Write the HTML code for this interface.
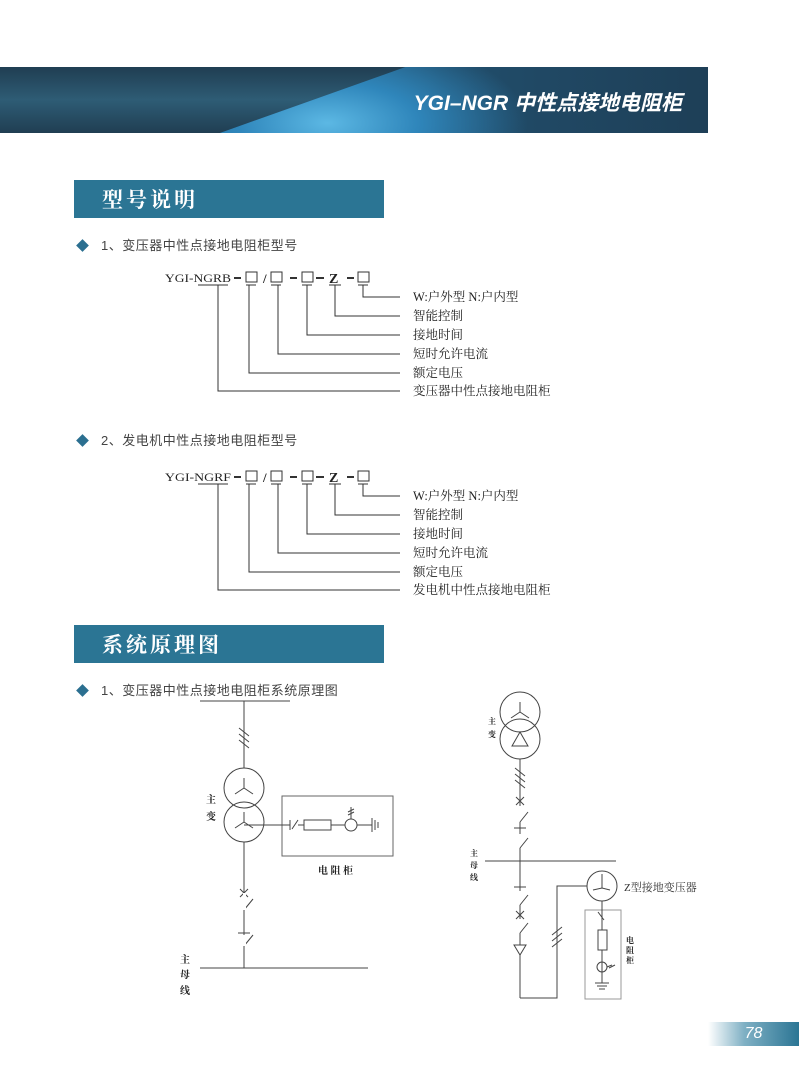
<!DOCTYPE html>
<html><head><meta charset="utf-8"><style>
body{margin:0;background:#fff;}
.p{position:relative;width:799px;height:1092px;overflow:hidden;font-family:"Liberation Serif","Noto Serif CJK SC",serif;}
.ban{position:absolute;left:0;top:67px;width:708px;height:66px;background:linear-gradient(180deg,#203e52 0%,#2e5c75 50%,#203e52 100%);overflow:hidden;}
.ban .g{position:absolute;left:220px;top:0;width:488px;height:66px;clip-path:polygon(0 100%,38% 0,100% 0,100% 100%);background:radial-gradient(ellipse 200px 90px at 22% 85%,#5cb8e4 0%,#2f86bb 45%,rgba(31,75,105,0) 100%),linear-gradient(90deg,#2a6f9c 0%,#214e6c 45%,#1e3f57 100%);}
.ban .t{position:absolute;right:26px;top:20px;color:#fff;font:italic bold 21px "Liberation Sans","Noto Sans CJK SC",sans-serif;}
.sec{position:absolute;left:74px;width:310px;height:38px;background:#2b7594;color:#fff;font:bold 21px "Noto Serif CJK SC",serif;line-height:38px;padding-left:28px;box-sizing:border-box;letter-spacing:3px;}
.it{position:absolute;left:78px;font:13px "Liberation Sans","Noto Sans CJK SC",sans-serif;color:#444;letter-spacing:0.5px;}
.it b{display:inline-block;width:9px;height:9px;background:#2b6f90;transform:rotate(45deg);margin-right:14px;}
.pg{position:absolute;left:708px;top:1022px;width:91px;height:24px;background:linear-gradient(90deg,#fff 0%,#7fb0c4 40%,#2b7594 100%);color:#fff;font:italic 16px "Liberation Sans",sans-serif;text-align:center;line-height:24px;}
svg{position:absolute;left:0;top:0;}
</style></head><body><div class="p">
<div class="ban"><div class="g"></div><div class="t">YGI–NGR 中性点接地电阻柜</div></div>
<div class="sec" style="top:180px">型号说明</div>
<div class="it" style="top:235px"><b></b>1、变压器中性点接地电阻柜型号</div>
<div class="it" style="top:430px"><b></b>2、发电机中性点接地电阻柜型号</div>
<div class="sec" style="top:625px">系统原理图</div>
<div class="it" style="top:680px"><b></b>1、变压器中性点接地电阻柜系统原理图</div>
<div class="pg">78</div>
<svg width="799" height="1092" font-family="Liberation Serif,Noto Serif CJK SC,serif" fill="none" stroke="#333" stroke-width="1">
<defs>
<g id="code">
<rect x="246" y="272" width="11" height="10"/>
<text x="263" y="283" font-size="13" font-weight="bold" fill="#222" stroke="none">/</text>
<rect x="271" y="272" width="11" height="10"/>
<rect x="302" y="272" width="11" height="10"/>
<text x="329" y="283" font-size="14" font-weight="bold" fill="#222" stroke="none">Z</text>
<rect x="358" y="272" width="11" height="10"/>
<g stroke-width="2"><line x1="234" y1="278" x2="241" y2="278"/><line x1="290" y1="278" x2="297" y2="278"/><line x1="316" y1="278" x2="324" y2="278"/><line x1="347" y1="278" x2="354" y2="278"/></g>
<line x1="198" y1="285" x2="228" y2="285"/><line x1="246" y1="285" x2="256" y2="285"/><line x1="271" y1="285" x2="281" y2="285"/><line x1="302" y1="285" x2="312" y2="285"/><line x1="329" y1="285" x2="341" y2="285"/><line x1="358" y1="285" x2="368" y2="285"/>
<path d="M363 285V297H400M335 285V316H400M307 285V335H400M278 285V354H400M249 285V373H400M218 285V391H400"/>
<g fill="#222" stroke="none" font-size="12.5">
<text x="413" y="301">W:户外型  N:户内型</text>
<text x="413" y="320">智能控制</text>
<text x="413" y="339">接地时间</text>
<text x="413" y="358">短时允许电流</text>
<text x="413" y="377">额定电压</text>
</g></g>
</defs>
<use href="#code"/>
<text x="165" y="282" font-size="12" fill="#222" stroke="none" textLength="66" lengthAdjust="spacingAndGlyphs">YGI-NGRB</text>
<text x="413" y="395" font-size="12.5" fill="#222" stroke="none">变压器中性点接地电阻柜</text>
<g transform="translate(0,199)">
<use href="#code"/>
<text x="165" y="282" font-size="12" fill="#222" stroke="none" textLength="66" lengthAdjust="spacingAndGlyphs">YGI-NGRF</text>
<text x="413" y="395" font-size="12.5" fill="#222" stroke="none">发电机中性点接地电阻柜</text>
</g>
<!-- left schematic -->
<g stroke="#444">
<line x1="200" y1="701" x2="290" y2="701"/>
<line x1="244" y1="701" x2="244" y2="768"/>
<path d="M239 728l10 8M239 734l10 8M239 740l10 8"/>
<circle cx="244" cy="788" r="20"/><circle cx="244" cy="822" r="20"/>
<path d="M244 788v-10M244 788l-9 6M244 788l9 6M244 822v-10M244 822l-9 6M244 822l9 6"/>
<line x1="244" y1="842" x2="244" y2="968"/>
<rect x="282" y="796" width="111" height="60" stroke="#666"/>
<line x1="244" y1="825" x2="290" y2="825"/>
<path d="M290 820v10M292 829l6-9M298 825h6"/>
<rect x="304" y="820" width="27" height="10"/>
<line x1="331" y1="825" x2="345" y2="825"/>
<circle cx="351" cy="825" r="6"/>
<path d="M351 819v-12M348 812l6 -3M348 815l6-3M357 825h15M372 818v14M375 820v10M378 822v6"/>
<path d="M240 889l8 8M248 889l-8 8M244 910l9-11M238 933h12M244 946l9-11" fill="none"/>
<rect x="243" y="893" width="3" height="17" fill="#fff" stroke="none"/>
<rect x="243" y="935" width="3" height="11" fill="#fff" stroke="none"/>
<line x1="200" y1="968" x2="368" y2="968"/>
</g>
<g fill="#222" stroke="none" font-size="10" font-weight="bold">
<text x="206" y="803">主</text><text x="206" y="820">变</text>
<text x="318" y="874">电 阻 柜</text>
<text x="180" y="963">主</text><text x="180" y="978">母</text><text x="180" y="994">线</text>
</g>
<!-- right schematic -->
<g stroke="#444">
<circle cx="520" cy="712" r="20"/><circle cx="520" cy="739" r="20"/>
<path d="M520 712v-10M520 712l-9 6M520 712l9 6M512 746l8-14 8 14z"/>
<line x1="520" y1="759" x2="520" y2="998"/>
<path d="M515 768l10 8M515 774l10 8M515 780l10 8"/>
<path d="M516 797l8 8M524 797l-8 8M514 828h12M514 887h12"/>
<rect x="519" y="806" width="3" height="16" fill="#fff" stroke="none"/>
<rect x="519" y="834" width="3" height="14" fill="#fff" stroke="none"/>
<rect x="519" y="891" width="3" height="14" fill="#fff" stroke="none"/>
<rect x="519" y="919" width="3" height="14" fill="#fff" stroke="none"/>
<path d="M520 822l8-10M520 848l8-10M520 905l8-10M520 933l8-10M516 911l8 8M524 911l-8 8"/>
<path d="M514 945h12l-6 10z" fill="#fff"/>
<line x1="485" y1="861" x2="616" y2="861"/>
<path d="M520 998H557V886H587"/>
<path d="M552 935l10-8M552 941l10-8M552 947l10-8"/>
<circle cx="602" cy="886" r="15"/>
<path d="M602 874v14M593 890l9-2 8 2"/>
<rect x="585" y="910" width="36" height="89" stroke="#999"/>
<line x1="602" y1="901" x2="602" y2="930"/>
<path d="M598 912l6 8"/>
<rect x="598" y="930" width="9" height="20"/>
<line x1="602" y1="950" x2="602" y2="983"/>
<circle cx="602" cy="967" r="5"/>
<path d="M607 967l5-2M609 968l6-3M595 983h14M597 986h10M599 989h6"/>
</g>
<g fill="#222" stroke="none" font-size="8" font-weight="bold">
<text x="488" y="724">主</text><text x="488" y="737">变</text>
<text x="470" y="856">主</text><text x="470" y="868">母</text><text x="470" y="880">线</text>
<text x="626" y="943">电</text><text x="626" y="953">阻</text><text x="626" y="963">柜</text>
</g>
<text x="624" y="891" font-size="11" fill="#333" stroke="none">Z型接地变压器</text>
</svg>
</div></body></html>
